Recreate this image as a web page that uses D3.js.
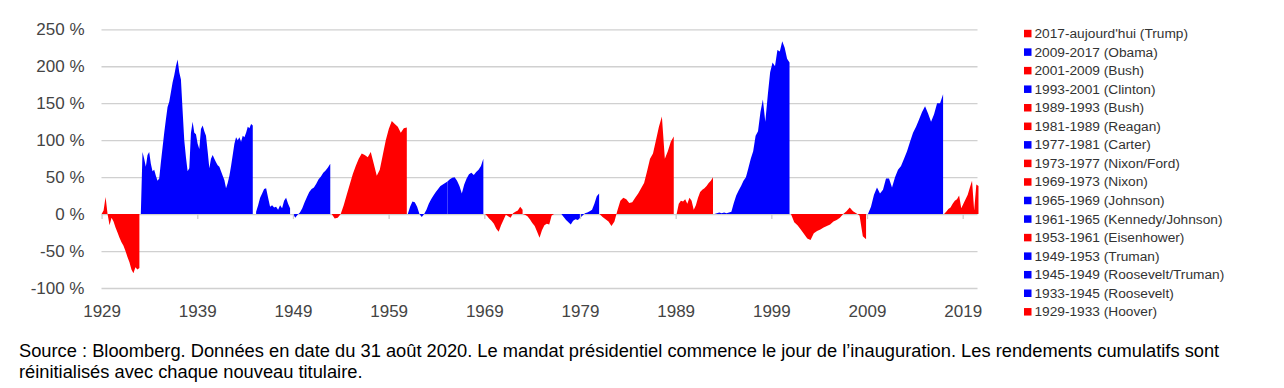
<!DOCTYPE html>
<html>
<head>
  <title>Rendements cumulatifs par mandat présidentiel</title>
  <script src="https://d3js.org/d3.v7.min.js"></script>
  <style>
    body, html {
      margin: 0;
      padding: 0;
      background: #fff;
      overflow: hidden;
    }
    svg text {
      font-family: "Liberation Sans", Arial, sans-serif;
    }
    .axis .domain { display: none; }
    .grid line { stroke: #d0d0d0; stroke-width: 1.3; }
    .axis text { fill: #444; font-size: 17px; }
    .legend text { fill: #333; font-size: 13.7px; }
    .note { fill: #000; font-size: 18.3px; }
  </style>
</head>
<body>
  <div id="chart"></div>

  <script>
    // cumulative return (%) per term, samples evenly spaced over the term
    const hoover = [0, 5, 23, 0, -15, -5, -10, -18, -25, -32, -38, -43, -50, -58, -65, -75, -80, -72, -75, -73];
    const roosevelt = [0, 84, 75, 64, 80, 84, 68, 58, 60, 52, 45, 48, 70, 90, 110, 128, 145, 152, 165, 178,
      188, 200, 209, 192, 182, 140, 100, 77, 58, 62, 110, 125, 110, 108, 95, 88, 115, 120, 112, 106,
      85, 62, 75, 80, 75, 70, 66, 64, 58, 52, 46, 35, 42, 52, 65, 80, 95, 104, 100, 104,
      98, 106, 104, 110, 118, 116, 122, 120];
    const rooseveltTruman = [3, 12, 22, 28, 34, 35, 22, 10, 12, 9, 10, 6, 12, 8, 18, 22, 14, 8];
    const truman = [0, -5, -1, 2, 8, 16, 23, 30, 34, 36, 41, 47, 51, 56, 59, 63, 68];
    const eisenhower = [0, -6, -5, 0, 12, 26, 40, 54, 65, 75, 82, 80, 77, 84, 68, 52, 60, 80, 100, 115,
      126, 122, 118, 110, 116, 117];
    const kennedyJohnson = [0, 10, 17, 16, 10, 0, -4, 0, 6, 14, 20, 25, 30, 34, 38, 40, 42, 44];
    const johnson = [44, 47, 49, 50, 45, 38, 28, 40, 48, 54, 56, 53, 57, 60, 65, 75];
    const nixon = [0, -2, -6, -9, -13, -20, -24, -15, -8, -1, -3, -5, 1, 3, 5, 10, 6];
    const nixonFord = [0, -1, -3, -7, -12, -16, -24, -32, -22, -15, -13, -14, -2, 0, 0, 0, 0];
    const carter = [0, -4, -8, -11, -14, -9, -7, -8, -5, -2, 1, 2, 4, 6, 14, 24, 28];
    const reagan = [0, -4, -7, -10, -16, -10, 5, 18, 22, 20, 15, 16, 22, 28, 35, 42, 58, 75, 82, 100,
      118, 132, 75, 85, 98, 105];
    const bush1 = [0, 14, 18, 17, 20, 14, 22, 18, 6, 12, 22, 30, 33, 35, 38, 42, 45, 50];
    const clinton = [0, 1, 2, 1, 2, 1, 2, 3, 15, 25, 32, 38, 45, 50, 62, 75, 85, 106, 112, 138,
      155, 125, 160, 192, 205, 200, 222, 220, 234, 225, 210, 205];
    const bush2 = [0, -11, -15, -21, -27, -33, -35, -26, -23, -21, -18, -16, -14, -10, -8, -5, 0, 4, 9, 4,
      1, -2, -30, -34];
    const obama = [0, 10, 26, 36, 28, 33, 48, 48, 36, 50, 60, 65, 75, 85, 98, 110, 118, 128, 138, 146,
      136, 125, 135, 150, 150, 162];
    const trump = [0, 3, 7, 9, 14, 18, 20, 25, 8, 14, 20, 26, 36, 45, 5, 40, 38];

    // term labels (legend order), parties, term span in years
    const termLabels = ["2017-aujourd'hui (Trump)", "2009-2017 (Obama)", "2001-2009 (Bush)", "1993-2001 (Clinton)",
      "1989-1993 (Bush)", "1981-1989 (Reagan)", "1977-1981 (Carter)", "1973-1977 (Nixon/Ford)", "1969-1973 (Nixon)",
      "1965-1969 (Johnson)", "1961-1965 (Kennedy/Johnson)", "1953-1961 (Eisenhower)", "1949-1953 (Truman)",
      "1945-1949 (Roosevelt/Truman)", "1933-1945 (Roosevelt)", "1929-1933 (Hoover)"];
    const termParty = ["R", "D", "R", "D", "R", "R", "D", "R", "R", "D", "D", "R", "D", "D", "D", "R"];
    const termStart = [2017.05, 2009.1, 2001.05, 1993.05, 1989.1, 1981.05, 1977.05, 1973.0, 1969.0,
      1965.15, 1961.0, 1953.05, 1949.0, 1945.15, 1933.1, 1929.0];
    const termEnd = [2020.65, 2016.95, 2008.9, 2000.9, 1992.9, 1988.8, 1981.0, 1977.05, 1973.0,
      1968.9, 1965.15, 1960.9, 1952.9, 1948.7, 1944.8, 1932.95];
    const termValues = [trump, obama, bush2, clinton, bush1, reagan, carter, nixonFord, nixon,
      johnson, kennedyJohnson, eisenhower, truman, rooseveltTruman, roosevelt, hoover];

    const yTicks = [-100, -50, 0, 50, 100, 150, 200, 250];
    const xTicks = [1929, 1939, 1949, 1959, 1969, 1979, 1989, 1999, 2009, 2019];

    const partyColor = { R: "#ff0000", D: "#0000ff" };

    const width = 1284, height = 388;
    const left = 101.5, right = 977.5;

    const svg = d3.select("#chart").append("svg")
      .attr("width", width)
      .attr("height", height);

    const x = d3.scaleLinear().domain([1929, 2019]).range([101.6, 962.7]);
    const y = d3.scaleLinear().domain([-100, 250]).range([288, 29.3]);

    // y grid + labels
    svg.append("g")
      .attr("class", "axis grid")
      .attr("transform", `translate(${left},0)`)
      .call(d3.axisLeft(y).tickValues(yTicks)
        .tickSize(-(right - left))
        .tickPadding(17)
        .tickFormat(d => d + " %"));

    // areas
    const area = d3.area()
      .x(d => x(d.year))
      .y0(y(0))
      .y1(d => y(d.v));

    termValues.forEach((vals, i) => {
      const pts = vals.map((v, j) => ({
        year: termStart[i] + (termEnd[i] - termStart[i]) * j / (vals.length - 1),
        v: v
      }));
      svg.append("path")
        .datum(pts)
        .attr("fill", partyColor[termParty[i]])
        .attr("d", area);
    });

    // tick marks on the zero line
    svg.append("g")
      .attr("class", "axis")
      .attr("transform", `translate(0,${y(0)})`)
      .call(d3.axisBottom(x).tickValues(xTicks).tickSize(5).tickFormat(""))
      .selectAll(".tick line").attr("stroke", "#ccc").attr("stroke-width", 1.3);

    // year labels under the plot
    svg.append("g")
      .attr("class", "axis")
      .attr("transform", `translate(0,${y(-100)})`)
      .call(d3.axisBottom(x).tickValues(xTicks).tickSize(0).tickPadding(17).tickFormat(d3.format("d")))
      .selectAll(".tick line").remove();

    // legend
    const legend = svg.append("g").attr("class", "legend");
    const row = legend.selectAll("g")
      .data(termLabels)
      .join("g")
      .attr("transform", (d, i) => `translate(1024,${33.3 + i * 18.55})`);
    row.append("rect")
      .attr("x", 0).attr("y", -3.5)
      .attr("width", 7.5).attr("height", 7.5)
      .attr("fill", (d, i) => partyColor[termParty[i]]);
    row.append("text")
      .attr("x", 10.5)
      .attr("dy", "0.35em")
      .text(d => d);

    // source note
    const note = svg.append("text").attr("class", "note").attr("x", 19);
    note.append("tspan").attr("x", 19).attr("y", 357)
      .text("Source : Bloomberg. Données en date du 31 août 2020. Le mandat présidentiel commence le jour de l\u2019inauguration. Les rendements cumulatifs sont");
    note.append("tspan").attr("x", 19).attr("y", 378)
      .text("réinitialisés avec chaque nouveau titulaire.");
  </script>
</body>
</html>
